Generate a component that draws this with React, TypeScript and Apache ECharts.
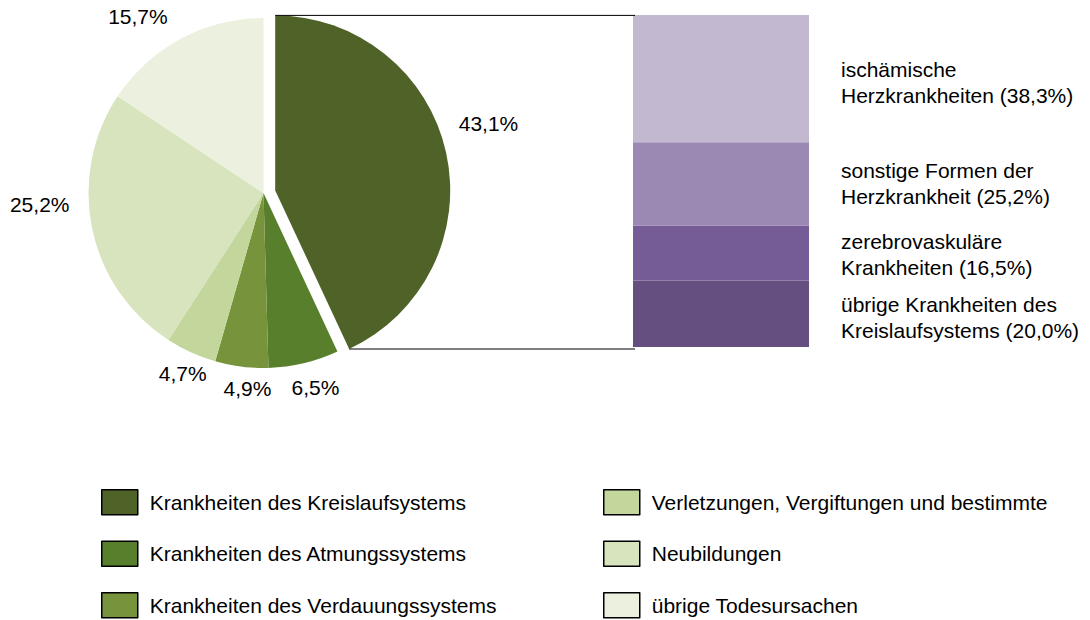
import React, { useEffect, useRef } from "react";
import * as echarts from "echarts";

// ---- data ----
const causes = [
  "Krankheiten des Kreislaufsystems",
  "Krankheiten des Atmungssystems",
  "Krankheiten des Verdauungssystems",
  "Verletzungen, Vergiftungen und bestimmte",
  "Neubildungen",
  "übrige Todesursachen",
];
const causeShares = [43.1, 6.5, 4.9, 4.7, 25.2, 15.7];
const causeLabels = ["43,1%", "6,5%", "4,9%", "4,7%", "25,2%", "15,7%"];

// top to bottom in the stacked column
const circulatory = [
  "ischämische\nHerzkrankheiten",
  "sonstige Formen der\nHerzkrankheit",
  "zerebrovaskuläre\nKrankheiten",
  "übrige Krankheiten des\nKreislaufsystems",
];
const circulatoryShares = [38.3, 25.2, 16.5, 20.0];
const circulatoryLabels = ["38,3%", "25,2%", "16,5%", "20,0%"];

// ---- styles ----
const greenColors = ["#4F6228", "#58802C", "#77933C", "#C3D69B", "#D7E4BD", "#EBF1DE"];
const purpleColors = ["#C2B9D1", "#9B89B3", "#765C96", "#644F80"];
const FONT = "'Liberation Sans', Arial, sans-serif";
const FS = 21;
const PIE_CX = 263.5;
const PIE_CY = 193;
const PIE_R = 175;
const EXPLODE = 12;
const LABEL_R = 200;
const labelNudge: [number, number][] = [
  [18, -24],
  [6, 0],
  [9, -3],
  [2, -2],
  [-28, -29],
  [-31, 0],
];
const barLabelShift = [4, 0, 1, 4];
const BAR_LEFT = 633;
const BAR_TOP = 15;
const BAR_W = 176;
const BAR_H = 332;
const HIDDEN = "rgba(0,0,0,0)";

export default function App() {
  const ref = useRef<HTMLDivElement>(null);
  useEffect(() => {
    if (!ref.current) return;
    const chart = echarts.init(ref.current, undefined, { renderer: "svg" });

    const total = causeShares.reduce((a, b) => a + b, 0);
    const rad = (d: number) => (d * Math.PI) / 180;
    const cum: number[] = [];
    let acc = 0;
    causeShares.forEach((v) => {
      cum.push(acc);
      acc += v;
    });
    const midDeg = (i: number) => ((cum[i] + causeShares[i] / 2) / total) * 360;
    const exCx = PIE_CX + EXPLODE * Math.sin(rad(midDeg(0)));
    const exCy = PIE_CY - EXPLODE * Math.cos(rad(midDeg(0)));
    const endDeg0 = (causeShares[0] / total) * 360;
    const topY = exCy - PIE_R;
    const endX = exCx + PIE_R * Math.sin(rad(endDeg0));
    const endY = exCy - PIE_R * Math.cos(rad(endDeg0));

    const barSeriesOrder = [...circulatory.keys()].reverse();

    const legendBase = {
      orient: "vertical" as const,
      top: 489,
      height: 200,
      padding: 0,
      itemWidth: 36,
      itemHeight: 25,
      itemGap: 25,
      icon: "rect",
      selectedMode: false,
      itemStyle: { borderColor: "#000", borderWidth: 1.5 },
      textStyle: { fontSize: FS, color: "#000", fontFamily: FONT, padding: [0, 0, 0, 7] },
    };
    const legendData = causes.map((name, i) => ({
      name,
      itemStyle: { color: greenColors[i], borderColor: "#000", borderWidth: 1.5 },
    }));

    const makePie = (explodedPart: boolean) => {
      const cx = explodedPart ? exCx : PIE_CX;
      const cy = explodedPart ? exCy : PIE_CY;
      const visible = (i: number) => (explodedPart ? i === 0 : i !== 0);
      return {
        type: "pie",
        center: [cx, cy],
        radius: [0, PIE_R],
        startAngle: 90,
        clockwise: true,
        avoidLabelOverlap: false,
        silent: true,
        emphasis: { disabled: true },
        itemStyle: { borderWidth: 0 },
        label: {
          show: true,
          position: "outside",
          fontSize: FS,
          color: "#000",
          fontFamily: FONT,
          formatter: (p: any) => causeLabels[p.dataIndex],
        },
        labelLine: { show: false },
        labelLayout: (p: any) => {
          const i = p.dataIndex;
          const a = rad(midDeg(i));
          return {
            x: cx + LABEL_R * Math.sin(a) + labelNudge[i][0],
            y: cy - LABEL_R * Math.cos(a) + labelNudge[i][1],
            align: "center",
            verticalAlign: "middle",
          };
        },
        data: causes.map((name, i) => ({
          name,
          value: causeShares[i],
          itemStyle: { color: visible(i) ? greenColors[i] : HIDDEN },
          label: { show: visible(i) },
        })),
      };
    };

    chart.setOption({
      animation: false,
      backgroundColor: "#fff",
      textStyle: { fontFamily: FONT },
      legend: [
        { ...legendBase, left: 101, data: legendData.slice(0, 3) },
        { ...legendBase, left: 603, data: legendData.slice(3) },
      ],
      grid: { left: BAR_LEFT, top: BAR_TOP, width: BAR_W, height: BAR_H, containLabel: false },
      xAxis: { type: "category", data: ["Kreislauf"], show: false },
      yAxis: { type: "value", min: 0, max: 100, show: false },
      graphic: [
        {
          type: "line",
          shape: { x1: exCx, y1: topY, x2: BAR_LEFT + 2, y2: topY },
          style: { stroke: "#000", lineWidth: 1 },
          z: 10,
        },
        {
          type: "line",
          shape: { x1: endX, y1: endY, x2: BAR_LEFT + 2, y2: endY },
          style: { stroke: "#000", lineWidth: 1 },
          z: 10,
        },
      ],
      series: [
        makePie(false),
        makePie(true),
        ...barSeriesOrder.map((i) => ({
          type: "bar",
          name: circulatory[i],
          stack: "kreislauf",
          barWidth: "100%",
          barCategoryGap: 0,
          silent: true,
          emphasis: { disabled: true },
          itemStyle: { color: purpleColors[i] },
          label: {
            show: true,
            position: "right",
            distance: 32,
            align: "left",
            offset: [0, barLabelShift[i]],
            fontSize: FS,
            lineHeight: 26,
            color: "#000",
            fontFamily: FONT,
            formatter: () => `${circulatory[i]} (${circulatoryLabels[i]})`,
          },
          data: [circulatoryShares[i]],
        })),
      ],
    });
    return () => chart.dispose();
  }, []);
  return (
    <div
      ref={ref}
      style={{ position: "absolute", left: 0, top: 0, width: 1090, height: 620 }}
    />
  );
}
